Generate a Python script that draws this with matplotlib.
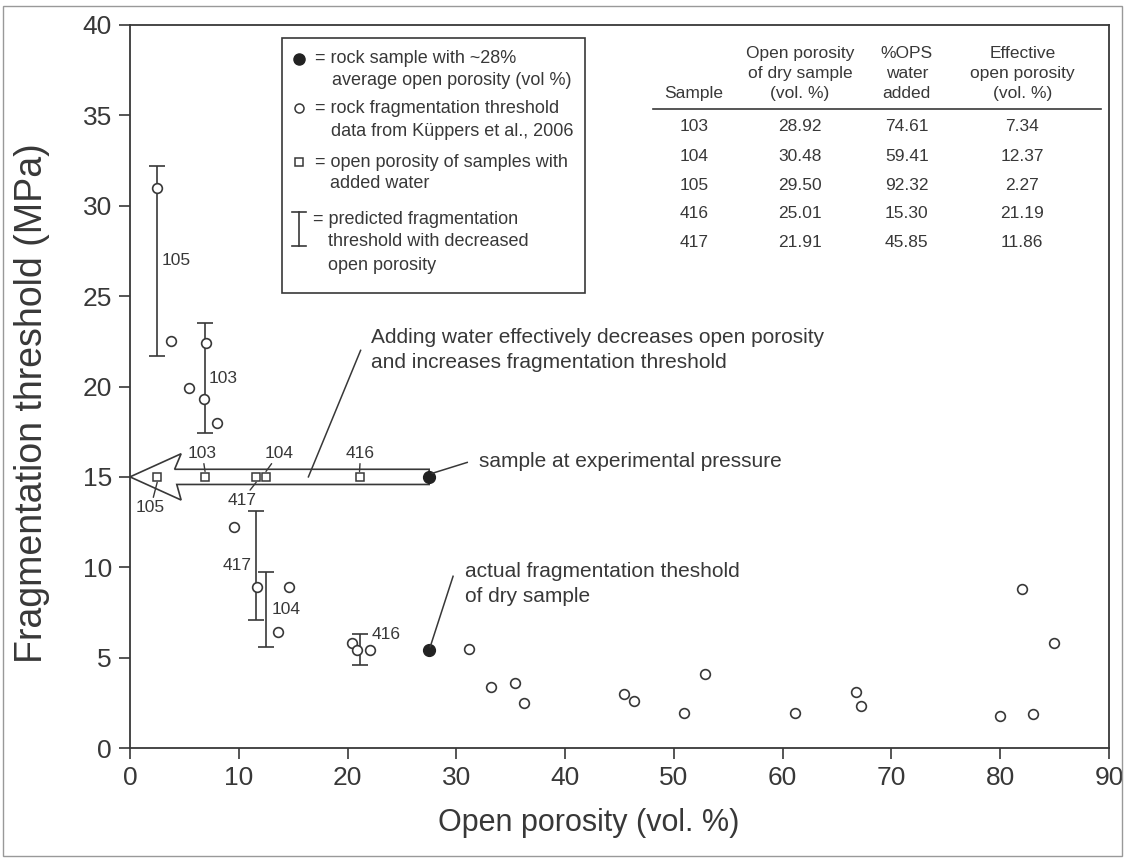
import matplotlib
matplotlib.use("Agg")
import matplotlib.pyplot as plt
from matplotlib.patches import Polygon, Rectangle

plt.rcParams['font.family'] = ['Liberation Sans', 'DejaVu Sans']

INK = '#383838'

# Kuppers et al. (2006) fragmentation threshold data
kup_porosity = [2.5, 3.8, 5.4, 7.0, 6.8, 8.0, 9.6, 11.7, 14.6, 13.6, 20.4, 20.9, 22.1,
                31.2, 33.2, 35.4, 36.2, 45.4, 46.3, 50.9, 52.9, 61.1, 66.7, 67.2,
                80.0, 82.0, 83.0, 84.9]
kup_threshold = [31.0, 22.5, 19.9, 22.4, 19.3, 18.0, 12.2, 8.9, 8.9, 6.4, 5.8, 5.4, 5.4,
                 5.5, 3.4, 3.6, 2.5, 3.0, 2.6, 1.95, 4.1, 1.95, 3.1, 2.3,
                 1.75, 8.8, 1.9, 5.8]

# rock sample with ~28% open porosity
sample_porosity = 27.5
sample_dry_threshold = 5.4
experimental_pressure = 15.0

# samples with added water (table values)
samples = ['103', '104', '105', '416', '417']
dry_porosity = [28.92, 30.48, 29.50, 25.01, 21.91]
ops_water = [74.61, 59.41, 92.32, 15.30, 45.85]
eff_porosity = [7.34, 12.37, 2.27, 21.19, 11.86]

# where the squares / predicted thresholds sit on the plot
wet_porosity = [6.9, 12.5, 2.5, 21.1, 11.6]
pred_high = [23.5, 9.75, 32.2, 6.3, 13.1]
pred_low = [17.4, 5.6, 21.7, 4.6, 7.1]


def draw_legend_box(ax):
    """
    Hand drawn key in the upper left of the plot.
    """
    ax.add_patch(Rectangle((0.155, 0.6289), 0.3098, 0.3527, transform=ax.transAxes,
                           fill=False, ec=INK, lw=1.2, zorder=6))
    mx = 0.1729
    ax.plot([mx], [0.953], 'o', color='#222222', ms=8, transform=ax.transAxes)
    ax.plot([mx], [0.8852], 'o', mfc='white', mec=INK, ms=6.5, mew=1.1, transform=ax.transAxes)
    ax.plot([mx], [0.8105], 's', mfc='white', mec=INK, ms=6, mew=1.1, transform=ax.transAxes)
    ax.plot([mx, mx], [0.6943, 0.7418], color=INK, lw=1.2, transform=ax.transAxes)
    for yc in (0.6943, 0.7418):
        ax.plot([mx - 0.007, mx + 0.007], [yc, yc], color=INK, lw=1.2, transform=ax.transAxes)

    lines = [
        (0.189, 0.953, '= rock sample with ~28%'),
        (0.206, 0.9239, 'average open porosity (vol %)'),
        (0.189, 0.8852, '= rock fragmentation threshold'),
        (0.205, 0.853, 'data from Küppers et al., 2006'),
        (0.189, 0.8105, '= open porosity of samples with'),
        (0.204, 0.7805, 'added water'),
        (0.187, 0.7303, '= predicted fragmentation'),
        (0.2025, 0.7003, 'threshold with decreased'),
        (0.2025, 0.668, 'open porosity'),
    ]
    for x, y, s in lines:
        ax.text(x, y, s, transform=ax.transAxes, ha='left', va='center',
                fontsize=13, color=INK)


def draw_table(ax):
    """
    Sample table in the upper right of the plot.
    """
    col_x = [0.576, 0.6844, 0.7934, 0.9114]
    kw = dict(transform=ax.transAxes, ha='center', va='center', fontsize=12.5, color=INK)
    ax.text(col_x[0], 0.9046, 'Sample', **kw)
    ax.text(col_x[1], 0.9332, 'Open porosity\nof dry sample\n(vol. %)', linespacing=1.44, **kw)
    ax.text(col_x[2], 0.9332, '%OPS\nwater\nadded', linespacing=1.44, **kw)
    ax.text(col_x[3], 0.9332, 'Effective\nopen porosity\n(vol. %)', linespacing=1.44, **kw)
    ax.plot([0.5342, 0.9915], [0.8834, 0.8834], color=INK, lw=1.2, transform=ax.transAxes)

    row_y = [0.8603, 0.8188, 0.7777, 0.7396, 0.6989]
    for i, name in enumerate(samples):
        vals = [name, f'{dry_porosity[i]:.2f}', f'{ops_water[i]:.2f}', f'{eff_porosity[i]:.2f}']
        for cx, v in zip(col_x, vals):
            ax.text(cx, row_y[i], v, **kw)


def main():
    fig = plt.figure(figsize=(11.26, 8.59), dpi=100)
    ax = fig.add_axes([130 / 1126, 111 / 859, 979 / 1126, 723 / 859])

    # outer frame of the figure
    fig.add_artist(Rectangle((3 / 1126, 3 / 859), 1119 / 1126, 850 / 859,
                             transform=fig.transFigure, fill=False, ec='#999999', lw=1))

    # big hollow arrow at experimental pressure
    y0 = experimental_pressure
    head_len, head_hw, shaft_hw = 4.7, 1.28, 0.42
    arrow_pts = [(0, y0), (head_len, y0 + head_hw), (head_len - 0.6, y0 + shaft_hw),
                 (sample_porosity, y0 + shaft_hw), (sample_porosity, y0 - shaft_hw),
                 (head_len - 0.4, y0 - shaft_hw), (head_len, y0 - head_hw)]
    ax.add_patch(Polygon(arrow_pts, closed=True, fc='white', ec=INK, lw=1.2,
                         zorder=3, clip_on=False))

    # predicted fragmentation threshold ranges
    heights = [h - l for h, l in zip(pred_high, pred_low)]
    ax.errorbar(wet_porosity, pred_low, yerr=[[0] * 5, heights], fmt='none',
                ecolor=INK, elinewidth=1.2, capsize=6, capthick=1.2, zorder=2)

    # squares: open porosity with added water
    ax.plot(wet_porosity, [experimental_pressure] * len(wet_porosity), 's',
            mfc='white', mec=INK, ms=6, mew=1.1, zorder=4)

    # Kuppers data
    ax.plot(kup_porosity, kup_threshold, 'o', mfc='white', mec=INK, ms=7, mew=1.2, zorder=5)

    # rock sample: at experimental pressure and dry threshold
    ax.plot([sample_porosity, sample_porosity], [experimental_pressure, sample_dry_threshold],
            'o', color='#222222', ms=8.5, zorder=6)

    # labels on the error bars
    bar_label = {'105': (0.4, 'mid', 'left'), '103': (0.3, 'mid', 'left'),
                 '417': (-0.4, 'mid', 'right'), '104': (0.5, 'mid', 'left'),
                 '416': (1.1, 'top', 'left')}
    for i, name in enumerate(samples):
        dx, where, ha = bar_label[name]
        yy = (pred_high[i] + pred_low[i]) / 2 if where == 'mid' else pred_high[i]
        ax.text(wet_porosity[i] + dx, yy, name, ha=ha, va='center', fontsize=12.5, color=INK)

    # labels on the squares
    sq_label = {'103': (-0.25, 1.3), '104': (1.2, 1.3), '416': (0.1, 1.3),
                '105': (-0.6, -1.7), '417': (-1.3, -1.3)}
    for i, name in enumerate(samples):
        dx, dy = sq_label[name]
        ax.annotate(name, xy=(wet_porosity[i], y0 + 0.3 * (1 if dy > 0 else -1)),
                    xytext=(wet_porosity[i] + dx, y0 + dy), ha='center', va='center',
                    fontsize=12.5, color=INK, zorder=7,
                    arrowprops=dict(arrowstyle='-', color=INK, lw=1, shrinkA=0, shrinkB=0))

    # annotations
    ax.plot([16.4, 21.2], [15.0, 22.0], color=INK, lw=1.1, zorder=7)
    ax.text(22.2, 22.0, 'Adding water effectively decreases open porosity\n'
            'and increases fragmentation threshold',
            ha='left', va='center', fontsize=15, color=INK, linespacing=1.39)
    ax.plot([sample_porosity + 0.3, 31.0], [15.2, 15.8], color=INK, lw=1.1, zorder=7)
    ax.text(32.1, 15.84, 'sample at experimental pressure', ha='left', va='center',
            fontsize=15, color=INK)
    ax.plot([sample_porosity + 0.1, 29.7], [5.6, 9.5], color=INK, lw=1.1, zorder=7)
    ax.text(30.8, 9.05, 'actual fragmentation theshold\nof dry sample', ha='left',
            va='center', fontsize=15, color=INK, linespacing=1.39)

    draw_legend_box(ax)
    draw_table(ax)

    ax.set_xlim(0, 90)
    ax.set_ylim(0, 40)
    ax.set_xticks(range(0, 91, 10))
    ax.set_yticks(range(0, 41, 5))
    ax.tick_params(direction='out', length=8, width=1.2, colors=INK, labelsize=19, pad=5)
    for sp in ax.spines.values():
        sp.set_color(INK)
        sp.set_linewidth(1.3)

    ax.set_xlabel('Open porosity (vol. %)', fontsize=22, color=INK)
    ax.set_ylabel('Fragmentation threshold (MPa)', fontsize=27, color=INK)
    ax.xaxis.set_label_coords(0.469, -0.083)
    ax.yaxis.set_label_coords(-0.082, 0.477)

    fig.savefig('out.png', dpi=100)


if __name__ == "__main__":
    main()
